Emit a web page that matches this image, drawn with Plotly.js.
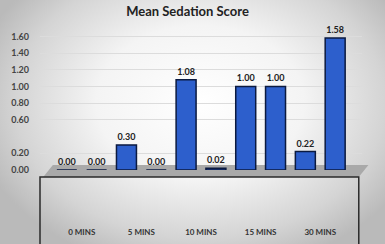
<!DOCTYPE html>
<html>
<head>
<meta charset="utf-8">
<script src="https://cdn.plot.ly/plotly-3.0.1.min.js"></script>
<style>
html,body{margin:0;padding:0;}
body{width:385px;height:244px;overflow:hidden;
background:radial-gradient(ellipse 60% 70% at 52% 42%, #ffffff 0%, #f4f4f4 45%, #d4d4d4 80%, #bababa 100%);}
#chart{width:385px;height:244px;}
</style>
</head>
<body>
<div id="chart"></div>
<script>
const categories = ["0 MINS", "5 MINS", "10 MINS", "15 MINS", "30 MINS"];
const seriesA = [0.00, 0.30, 1.08, 1.00, 0.22];
const seriesB = [0.00, 0.00, 0.02, 1.00, 1.58];
const yTickVals = [0.00, 0.20, 0.60, 0.80, 1.00, 1.20, 1.40, 1.60];

const barStyle = {
  color: '#2d5fcc',
  line: {color: '#0b1a40', width: 1.5}
};
const textFont = {family: 'Lato, sans-serif', size: 9, color: '#222', weight: 'bold'};

const traces = [seriesA, seriesB].map(vals => ({
  type: 'bar',
  x: categories,
  y: vals,
  marker: barStyle,
  text: vals.map(v => v.toFixed(2)),
  textposition: 'outside',
  textfont: textFont,
  cliponaxis: false,
  hoverinfo: 'none'
}));

const layout = {
  width: 385, height: 244,
  paper_bgcolor: 'rgba(0,0,0,0)',
  plot_bgcolor: 'rgba(0,0,0,0)',
  showlegend: false,
  barmode: 'group',
  bargap: 0,
  bargroupgap: 0.33,
  margin: {l: 40, r: 23, t: 28, b: 74},
  title: {
    text: 'Mean Sedation Score',
    font: {family: 'Lato, sans-serif', size: 13, color: '#222', weight: 'bold'},
    x: 0.487, xanchor: 'center', y: 0.955, yanchor: 'middle'
  },
  xaxis: {
    range: [-0.7, 4.7],
    showgrid: false, zeroline: false, showline: false, ticks: '',
    ticklabelstandoff: 56,
    tickfont: {family: 'Lato, sans-serif', size: 8, color: '#333', weight: 'bold'}
  },
  yaxis: {
    range: [0, 1.7],
    tickvals: yTickVals,
    tickformat: '.2f',
    showgrid: true, gridcolor: '#dcdcdc', gridwidth: 1,
    zeroline: false, showline: false, ticks: '',
    ticklabelstandoff: 10,
    tickfont: {family: 'Lato, sans-serif', size: 9, color: '#444', weight: 'bold'}
  },
  shapes: [
    {type: 'path', xref: 'paper', yref: 'paper', layer: 'below',
     path: 'M 0.01 -0.05 L 0.04 0.035 L 1.02 0.035 L 0.99 -0.05 Z',
     fillcolor: '#a9a9a9', line: {width: 0}},
    {type: 'path', xref: 'paper', yref: 'paper', layer: 'above',
     path: 'M 0 -0.94 L 0 -0.05 L 0.99 -0.05 L 0.99 -0.94',
     line: {color: '#2a2a2a', width: 1.5}}
  ]
};

Plotly.newPlot('chart', traces, layout, {staticPlot: true, displayModeBar: false});
</script>
</body>
</html>
